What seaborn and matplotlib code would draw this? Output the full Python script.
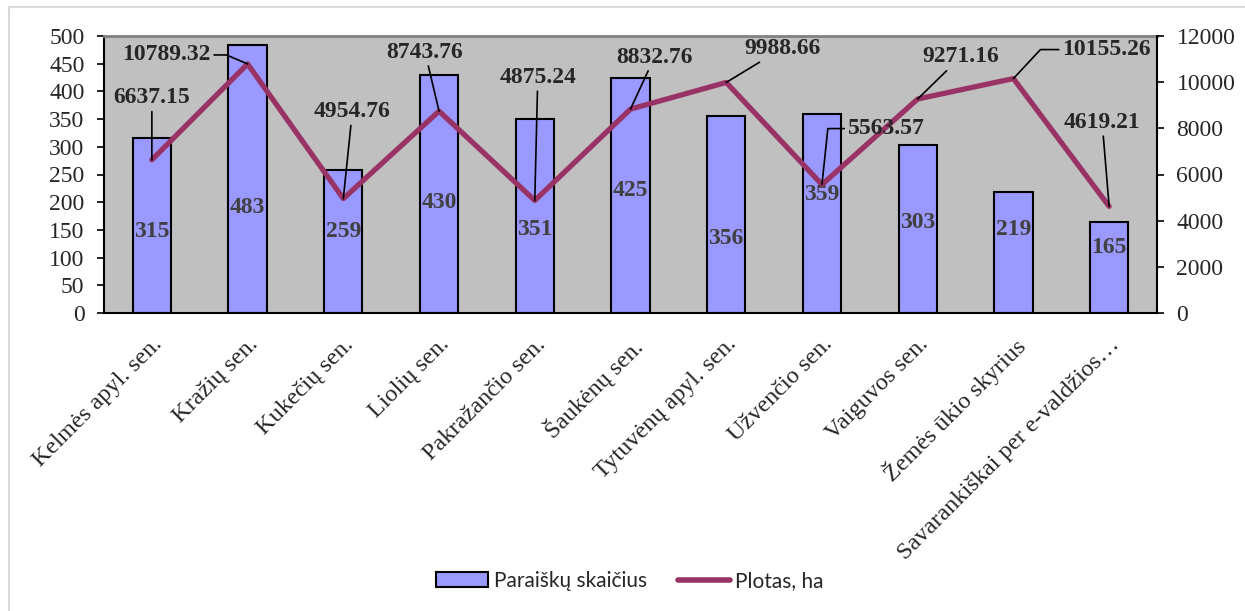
import numpy as np
import pandas as pd
import seaborn as sns
import matplotlib.pyplot as plt
from matplotlib.patches import Rectangle
from matplotlib.lines import Line2D

# duomenys
seniunijos = ['Kelmės apyl. sen.', 'Kražių sen.', 'Kukečių sen.', 'Liolių sen.',
              'Pakražančio sen.', 'Šaukėnų sen.', 'Tytuvėnų apyl. sen.', 'Užvenčio sen.',
              'Vaiguvos sen.', 'Žemės ūkio skyrius', 'Savarankiškai per e-valdžios…']
paraisku_skaicius = [315, 483, 259, 430, 351, 425, 356, 359, 303, 219, 165]
plotas_ha = [6637.15, 10789.32, 4954.76, 8743.76, 4875.24, 8832.76,
             9988.66, 5563.57, 9271.16, 10155.26, 4619.21]

# kur parašytos stulpelių reikšmės (kairės ašies vienetais)
stulpeliu_zymiu_y = [148, 191, 148, 199, 150, 222, 135, 213, 164, 150, 119]
# ploto žymių poslinkis nuo taško (pikseliais)
ploto_zymiu_poslinkis = [(0, 62), (-81, 9), (9, 87), (-14, 59), (3, 123), (24, 52),
                         (56, 34), (64, 56), (43, 42), (93, 29), (-7, 84)]
# žymės su laužta linija
laužtos = {1: ((1, 0.5), "angle,angleA=0,angleB=-23,rad=0"),
           7: ((0, 0.5), "angle,angleA=0,angleB=84,rad=0"),
           9: ((0, 0.5), "angle,angleA=0,angleB=47,rad=0")}

df = pd.DataFrame({'seniunija': seniunijos, 'paraiskos': paraisku_skaicius, 'plotas': plotas_ha})

sns.set_style('white')
plt.rcParams['font.family'] = ['Liberation Serif', 'DejaVu Serif']

W, H = 1245, 611
fig = plt.figure(figsize=(W / 100, H / 100), dpi=100)
ax1 = fig.add_axes([104 / W, 1 - 313 / H, (1157 - 104) / W, (313 - 36) / H])
ax1.set_facecolor('#C0C0C0')

sns.barplot(data=df, x='seniunija', y='paraiskos', color='#9999FF', saturation=1,
            width=0.4, edgecolor='black', linewidth=1.5, ax=ax1, zorder=2)

for i, (v, y) in enumerate(zip(paraisku_skaicius, stulpeliu_zymiu_y)):
    ax1.text(i, y, str(v), ha='center', va='center', fontsize=17,
             fontweight='bold', color='#404040', zorder=3)

ax2 = ax1.twinx()
sns.lineplot(x=np.arange(len(df)), y=df['plotas'].values, color='#993366',
             linewidth=3.8, solid_joinstyle='round', ax=ax2)

for i, (v, (dx, dy)) in enumerate(zip(plotas_ha, ploto_zymiu_poslinkis)):
    relpos, conn = laužtos.get(i, ((0.5, 0.5), "arc3,rad=0"))
    ax2.annotate(f'{v:.2f}', xy=(i, v), xytext=(dx, dy), textcoords='offset pixels',
                 ha='center', va='center', fontsize=17, fontweight='bold',
                 arrowprops=dict(arrowstyle='-', color='black', lw=1.2, shrinkA=0,
                                 shrinkB=0, relpos=relpos, connectionstyle=conn))

# ašys
ax1.set_xlim(-0.5, len(df) - 0.5)
ax1.set_ylim(0, 500)
ax1.set_yticks(range(0, 501, 50))
ax2.set_ylim(0, 12000)
ax2.set_yticks(range(0, 12001, 2000))
ax1.set_xlabel('')
ax1.set_ylabel('')
ax2.set_ylabel('')

ax1.set_xticks(range(len(df)))
ax1.set_xticklabels(seniunijos)
plt.setp(ax1.get_xticklabels(), rotation=45, ha='right', va='top', rotation_mode='anchor')
ax1.set_xticks(np.arange(-0.5, len(df), 1), minor=True)
ax1.tick_params(axis='x', which='major', length=0, pad=15, labelsize=17.5)
ax1.tick_params(axis='x', which='minor', length=5, width=1, color='black', direction='out')
ax1.tick_params(axis='y', length=5, width=1.2, pad=9, labelsize=17, color='black', direction='out', left=True)
ax2.tick_params(axis='y', length=5, width=1.2, pad=9, labelsize=17, color='black', direction='out', right=True)

for s in ['left', 'bottom']:
    ax1.spines[s].set_color('black')
    ax1.spines[s].set_linewidth(1.5)
ax1.spines['top'].set_color('#808080')
ax1.spines['top'].set_linewidth(2)
ax1.spines['right'].set_visible(False)
for s in ['left', 'top', 'bottom']:
    ax2.spines[s].set_visible(False)
ax2.spines['right'].set_color('black')
ax2.spines['right'].set_linewidth(1.5)

# legenda
rankenos = [Rectangle((0, 0), 1, 1, facecolor='#9999FF', edgecolor='black', linewidth=1.5),
            Line2D([0], [0], color='#993366', linewidth=4)]
fig.legend(rankenos, ['Paraiškų skaičius', 'Plotas, ha'], loc='center',
           bbox_to_anchor=(0.506, 0.049), ncol=2, frameon=False,
           prop={'family': 'Lato', 'size': 15}, handlelength=2.5,
           handletextpad=0.25, columnspacing=1.5)

# rėmelis aplink paveikslą
fig.add_artist(Rectangle((9 / W, -0.05), 1.1, 1 - 7 / H + 0.05, transform=fig.transFigure,
                         fill=False, edgecolor='#D9D9D9', linewidth=1.5))

fig.savefig('out.png', dpi=100)
